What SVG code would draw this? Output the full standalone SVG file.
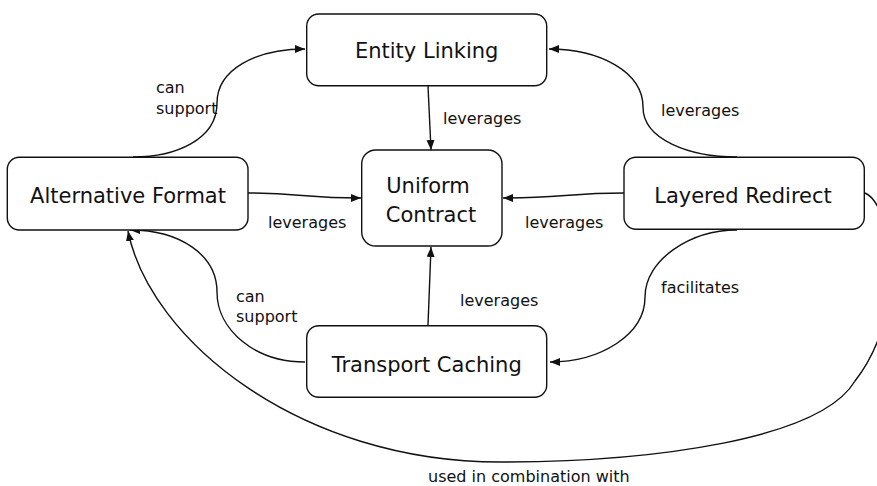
<svg xmlns="http://www.w3.org/2000/svg" width="877" height="486" viewBox="0 0 877 486">
<style>
.box{fill:#fff;stroke:#111;stroke-width:1.4}
.nt{font-family:"DejaVu Sans",sans-serif;font-size:21px;fill:#111;text-anchor:middle}
.lb{font-family:"DejaVu Sans",sans-serif;font-size:16px;fill:#111}
.e{fill:none;stroke:#111;stroke-width:1.4;marker-end:url(#ah)}
</style>
<defs>
<marker id="ah" markerUnits="userSpaceOnUse" markerWidth="12" markerHeight="10" refX="10" refY="4" orient="auto">
<path d="M0,0 L10,4 L0,8 Z" fill="#111"/>
</marker>
</defs>
<rect width="877" height="486" fill="#fff"/>
<g id="connectors">
<path class="e" d="M133,157 C175,157 217,140 217,103 C217,70 255,49 305,49"/>
<path class="e" d="M737,157 C690,157 643,140 643,107 C643,72 600,49 549,49"/>
<path class="e" d="M428,86 L431,150"/>
<path class="e" d="M248,193 C300,193 305,198 361,198"/>
<path class="e" d="M624,193 C570,193 560,198 503,198"/>
<path class="e" d="M428,325 L431,247"/>
<path class="e" d="M305,362 C255,362 217,330 217,292 C217,255 180,230 130,230"/>
<path class="e" d="M737,230 C690,230 645,260 645,297 C645,335 600,362 550,362"/>
<path class="e" d="M865,193 C892,205 910,310 855,381 C820,440 650,462 500,462 C300,462 150,340 128,231"/>
<text class="lb" x="156" y="93">can</text>
<text class="lb" x="156" y="114">support</text>
<text class="lb" x="661" y="116">leverages</text>
<text class="lb" x="443" y="124">leverages</text>
<text class="lb" x="268" y="228">leverages</text>
<text class="lb" x="525" y="228">leverages</text>
<text class="lb" x="460" y="306">leverages</text>
<text class="lb" x="236" y="302">can</text>
<text class="lb" x="236" y="322">support</text>
<text class="lb" x="661" y="293">facilitates</text>
<text class="lb" x="428" y="482">used in combination with</text>
</g>
<g id="entity-linking">
<rect class="box" x="306.7" y="14" width="240" height="71.7" rx="12"/>
<text class="nt" x="426.7" y="58">Entity Linking</text>
</g>
<g id="alternative-format">
<rect class="box" x="7.3" y="157.3" width="240.7" height="72.7" rx="12"/>
<text class="nt" x="128" y="203">Alternative Format</text>
</g>
<g id="uniform-contract">
<rect class="box" x="361.7" y="150" width="140.3" height="96" rx="14"/>
<text class="nt" x="428" y="193">Uniform</text>
<text class="nt" x="431" y="222">Contract</text>
</g>
<g id="layered-redirect">
<rect class="box" x="624" y="157.3" width="240.3" height="72" rx="12"/>
<text class="nt" x="743" y="203">Layered Redirect</text>
</g>
<g id="transport-caching">
<rect class="box" x="306.7" y="325.7" width="240" height="71.6" rx="12"/>
<text class="nt" x="426.7" y="372">Transport Caching</text>
</g>
</svg>
